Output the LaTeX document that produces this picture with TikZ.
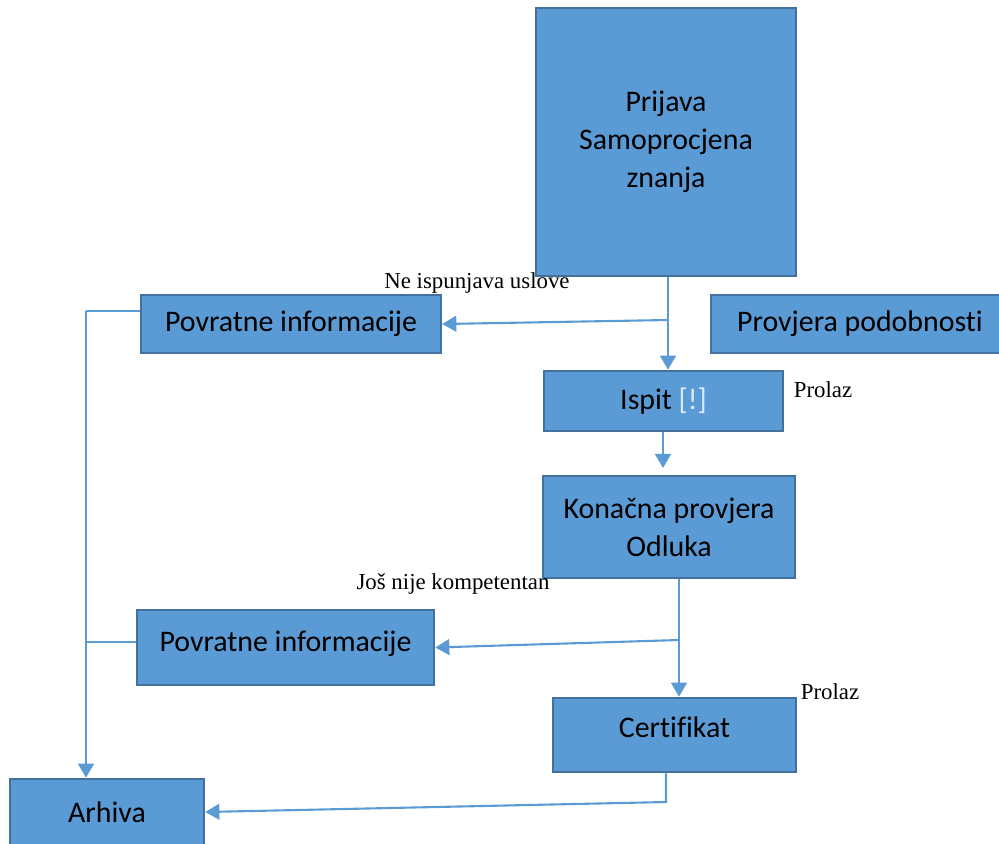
\documentclass[tikz,border=0pt]{standalone}
\usepackage{fontspec}
\setmainfont{Liberation Serif}
\newfontfamily\boxfont[Ligatures=NoCommon]{Carlito}
\usetikzlibrary{arrows.meta}

\definecolor{boxfill}{HTML}{5B9BD5}
\definecolor{boxline}{HTML}{41719C}
\definecolor{bangcol}{HTML}{DEEBF7}

\begin{document}
\begin{tikzpicture}[x=0.02cm, y=-0.02cm,
    box/.style={fill=boxfill, draw=boxline, line width=1.5pt, rectangle, align=center,
        inner sep=0pt, font=\boxfont\fontsize{17}{21.5}\selectfont},
    lbl/.style={inner sep=0pt, font=\fontsize{13}{15}\selectfont},
    flow/.style={draw=boxfill, line width=1.2pt},
    >={Triangle[width=9pt,length=8pt]}]
            \useasboundingbox (0,0) rectangle (999,843);

            % Steps
            \node[box, minimum width=5.2cm, minimum height=5.36cm] (prijava) at (666,142) {Prijava\\Samoprocjena\\znanja};
            \node[box, minimum width=6cm, minimum height=1.16cm] (povratne1) at (291,324) {Povratne informacije};
            \node[box, minimum width=5.96cm, minimum height=1.16cm] (provjera) at (860,324) {Provjera podobnosti};
            \node[box, minimum width=4.78cm, minimum height=1.2cm] (ispit) at (663.5,401) {Ispit \textcolor{bangcol}{[!]}};
            \node[box, minimum width=5.04cm, minimum height=2.04cm] (konacna) at (669,527) {Konačna provjera\\Odluka};
            \node[box, minimum width=5.94cm, minimum height=1.5cm, text depth=0.25cm] (povratne2) at (285.5,647.5) {Povratne informacije};
            \node[box, minimum width=4.86cm, minimum height=1.48cm, text depth=0.3cm] (certifikat) at (674.5,735) {Certifikat};
            \node[box, minimum width=3.88cm, minimum height=1.32cm] (arhiva) at (107,812) {Arhiva};

            % Labels
            \node[lbl] (uslovi) at (477,283) {Ne ispunjava uslove};
            \node[lbl] (prolaz1) at (823,390) {Prolaz};
            \node[lbl] (nije) at (453,584) {Još nije kompetentan};
            \node[lbl] (prolaz2) at (830,692) {Prolaz};

            % Branch points
            \coordinate (b1) at (668,320);
            \coordinate (k1) at (663,468);
            \coordinate (b2) at (679,640);
            \coordinate (b3) at (666,802);
            \coordinate (b4) at (86,311);
            \coordinate (b5) at (86,642);

            % Flow
            \draw[flow,->] (b1 |- prijava.south) -- (b1 |- ispit.north);
            \draw[flow,->] (b1) -- (povratne1.east);
            \draw[flow,->] (ispit.south -| k1) -- (k1);
            \draw[flow,->] (b2 |- konacna.south) -- (b2 |- certifikat.north);
            \draw[flow,->] (b2) -- (povratne2.east);
            \draw[flow,->] (b3 |- certifikat.south) -- (b3) -- (arhiva.east);

            % Back to archive
            \draw[flow] (povratne1.west |- b4) -- (b4);
            \draw[flow] (povratne2.west |- b5) -- (b5);
            \draw[flow,->] (b4) -- (b4 |- arhiva.north);

\end{tikzpicture}
\end{document}
